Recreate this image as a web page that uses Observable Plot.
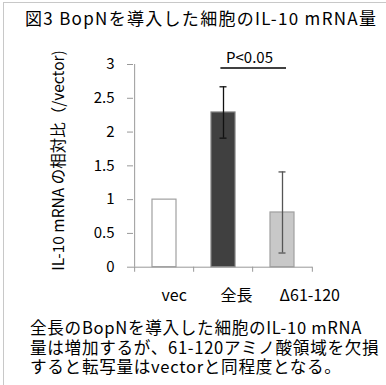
<!DOCTYPE html>
<html><head><meta charset="utf-8">
<script src="https://cdn.jsdelivr.net/npm/d3@7"></script>
<script src="https://cdn.jsdelivr.net/npm/@observablehq/plot@0.6"></script>
<style>
html,body{margin:0;padding:0;background:#fff;}
#wrap{position:relative;width:386px;height:385px;overflow:hidden;font-family:"Noto Sans CJK JP",sans-serif;color:#000;}
#frame{position:absolute;left:3px;top:2px;width:400px;height:400px;border-left:1px solid #c8c8c8;border-top:1px solid #c8c8c8;}
#title{position:absolute;left:25px;top:5px;font-size:17px;letter-spacing:1.3px;white-space:nowrap;}
#cap{position:absolute;left:30px;top:318px;font-size:16.6px;line-height:19.6px;letter-spacing:0.7px;white-space:nowrap;}
#chart{position:absolute;left:0;top:0;}
</style></head>
<body><div id="wrap"><div id="frame"></div><div id="chart"></div>
<div id="title">図3 BopNを導入した細胞のIL-10 mRNA量</div>
<div id="cap">全長のBopNを導入した細胞のIL-10 mRNA<br>量は増加するが、61-120アミノ酸領域を欠損<br>すると転写量はvectorと同程度となる。</div>
</div>
<script>
const categories = ["vec", "全長", "Δ61-120"];
const values = [1.0, 2.29, 0.81];
const errors = [0, 0.38, 0.6];
const fills = ["#ffffff", "#404040", "#c8c8c8"];
const strokes = ["#a0a0a0", "#808080", "#a0a0a0"];
const errColors = ["#000", "#111", "#555"];
const yTicks = [0, 0.5, 1, 1.5, 2, 2.5, 3];
const sigLabel = "P<0.05";
const yLabel = "IL-10 mRNA の相対比（/vector)";

const data = categories.map((c, i) => ({c, v: values[i], e: errors[i], fill: fills[i], stroke: strokes[i], ec: errColors[i]}));
const withErr = data.filter(d => d.e > 0);

const plot = Plot.plot({
  width: 386, height: 310,
  marginTop: 64, marginBottom: 43.3, marginLeft: 133, marginRight: 74,
  style: {fontFamily: '"Noto Sans CJK JP", sans-serif', fontSize: "14px", color: "#000", background: "transparent", overflow: "visible"},
  x: {domain: categories, paddingInner: 0.6, paddingOuter: 0.3, axis: null},
  y: {domain: [0, 3], ticks: yTicks, tickFormat: d => String(d), label: null},
  marks: [
    Plot.barY(data, {x: "c", y: "v", fill: d => d.fill, stroke: d => d.stroke, strokeWidth: 1.2}),
    Plot.ruleX(withErr, {x: "c", y1: d => d.v - d.e, y2: d => d.v + d.e, stroke: d => d.ec, strokeWidth: 1.3}),
    Plot.tickY(withErr, {x: "c", y: d => d.v + d.e, stroke: d => d.ec, strokeWidth: 1.3, insetLeft: 8.5, insetRight: 8.5}),
    Plot.tickY(withErr, {x: "c", y: d => d.v - d.e, stroke: d => d.ec, strokeWidth: 1.3, insetLeft: 8.5, insetRight: 8.5}),
    Plot.ruleY([0], {stroke: "#999"}),
    Plot.ruleX([0], {x: () => categories[0], dx: -29.85, y1: 0, y2: 3, stroke: "#999"}),
    Plot.ruleX(categories, {x: d => d, dx: -29.85, y1: 0, y2: -0.075, stroke: "#999"}),
    Plot.ruleX([categories[2]], {x: d => d, dx: 29.85, y1: 0, y2: -0.075, stroke: "#999"}),
    Plot.axisY({ticks: yTicks, tickFormat: d => String(d), tickSize: 6, tickPadding: 13, stroke: "#999", fontSize: 15, fill: "#000"}),
    Plot.text(categories, {x: d => d, y: 0, dy: 29, dx: -3, textAnchor: "start", text: d => d, fontSize: 16, fill: "#000"}),
    Plot.ruleY([2.95], {x1: () => categories[1], x2: () => categories[2], insetLeft: 9.4, insetRight: 8, stroke: "#000", strokeWidth: 1.5}),
    Plot.text([sigLabel], {x: () => categories[1], y: 2.95, dx: 26, dy: -10, text: d => d, fontSize: 15, fill: "#000"}),
    Plot.text([yLabel], {x: () => categories[0], y: 1.58, dx: -105, rotate: -90, text: d => d, fontSize: 15.5, letterSpacing: 1.2, fill: "#000"})
  ]
});
document.getElementById("chart").appendChild(plot);
</script></body></html>
